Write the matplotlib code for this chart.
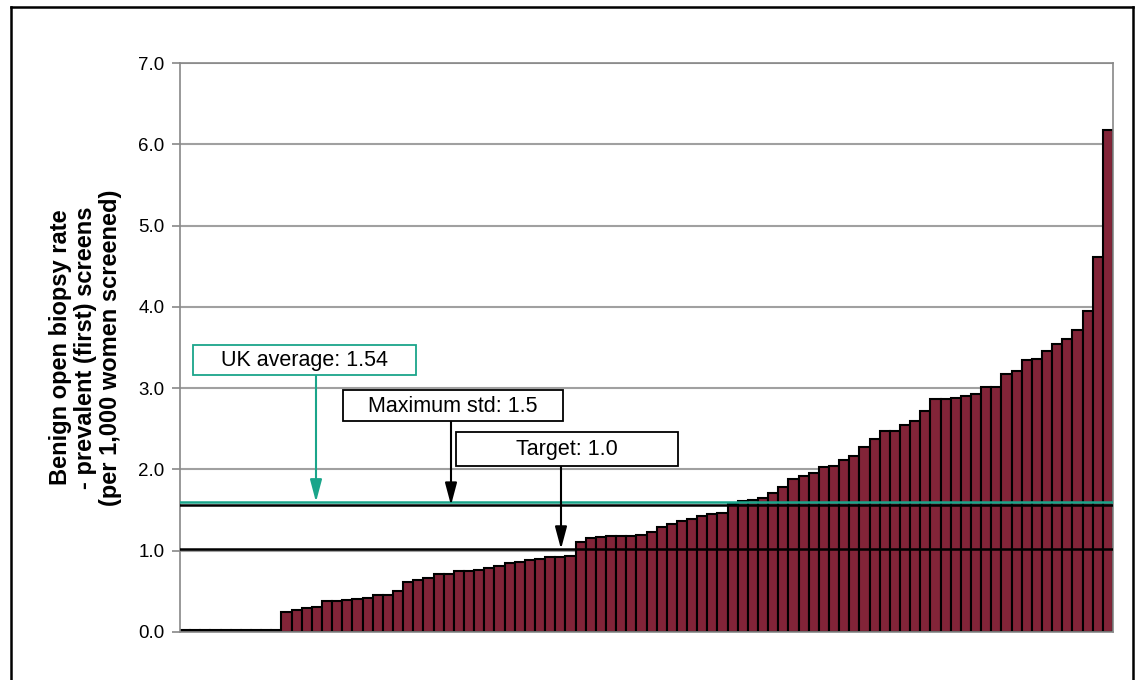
import matplotlib
matplotlib.use('Agg')
import matplotlib.pyplot as plt
from matplotlib.patches import Rectangle
from matplotlib.lines import Line2D

# ---- data ----
values = [0.02, 0.02, 0.02, 0.02, 0.02, 0.02, 0.02, 0.02, 0.02, 0.02,
          0.25, 0.27, 0.29, 0.31, 0.38, 0.38, 0.39, 0.40, 0.42, 0.455,
          0.46, 0.51, 0.61, 0.64, 0.66, 0.71, 0.71, 0.745, 0.755, 0.76,
          0.79, 0.815, 0.845, 0.86, 0.88, 0.90, 0.92, 0.925, 0.935, 1.11,
          1.16, 1.165, 1.175, 1.18, 1.185, 1.19, 1.225, 1.295, 1.33, 1.365,
          1.385, 1.425, 1.455, 1.47, 1.57, 1.615, 1.63, 1.65, 1.715, 1.785,
          1.88, 1.92, 1.95, 2.025, 2.04, 2.115, 2.17, 2.27, 2.38, 2.47,
          2.47, 2.55, 2.59, 2.72, 2.865, 2.87, 2.875, 2.905, 2.93, 3.02,
          3.02, 3.18, 3.21, 3.35, 3.36, 3.46, 3.54, 3.61, 3.71, 3.95,
          4.61, 6.18]
ytick_values = [0, 1, 2, 3, 4, 5, 6, 7]
ytick_labels = ['0.0', '1.0', '2.0', '3.0', '4.0', '5.0', '6.0', '7.0']
ylabel = 'Benign open biopsy rate\n- prevalent (first) screens\n(per 1,000 women screened)'

uk_avg_label = 'UK average: 1.54'
max_std_label = 'Maximum std: 1.5'
target_label = 'Target: 1.0'
uk_avg_line = 1.60
max_std_line = 1.56
target_line = 1.02

BAR = '#822438'
TEAL = '#1aa58a'
GRID = '#a0a0a0'

plt.rcParams['font.family'] = ['Liberation Sans', 'DejaVu Sans']

W, H = 1137, 680
fig = plt.figure(figsize=(W / 100, H / 100), dpi=100)

def fx(px):
    return px / W

def fy(py):
    return 1 - py / H

ax = fig.add_axes([fx(180), fy(632), (1113 - 180) / W, (632 - 63) / H])
xs = list(range(len(values)))
ax.bar(xs, values, width=1.0, color=BAR, edgecolor='black', linewidth=1.5, zorder=2)
ax.set_xlim(-0.5, len(values) - 0.5)
ax.set_ylim(0, 7)
ax.set_yticks(ytick_values)
ax.set_yticklabels(ytick_labels, fontsize=13.5)
ax.set_xticks([])
ax.yaxis.grid(True, color=GRID, linewidth=1.5, zorder=0)
ax.set_axisbelow(True)
for s in ax.spines.values():
    s.set_color('#888888')
    s.set_linewidth(1.2)
ax.tick_params(axis='y', length=6, width=1.2, color='#888888', pad=5)
ax.set_ylabel(ylabel, fontsize=17, fontweight='bold', linespacing=1.1, labelpad=12)

ax.axhline(target_line, color='black', lw=1.8, zorder=3)
ax.axhline(max_std_line, color='black', lw=1.8, zorder=3)
ax.axhline(uk_avg_line, color=TEAL, lw=1.8, zorder=4)

# annotation boxes (pixel layout)
boxes = [
    (uk_avg_label, 193, 345, 416, 375, TEAL, 316, uk_avg_line),
    (max_std_label, 343, 390, 563, 421, 'black', 451, max_std_line),
    (target_label, 456, 432, 678, 466, 'black', 561, target_line),
]
for label, x0, y0, x1, y1, col, ax_px, yval in boxes:
    fig.patches.append(Rectangle((fx(x0), fy(y1)), fx(x1) - fx(x0), fy(y0) - fy(y1),
                                 transform=fig.transFigure, facecolor='white',
                                 edgecolor=col, linewidth=1.3, zorder=5))
    fig.text(fx((x0 + x1) / 2), fy((y0 + y1) / 2) - 0.001, label, ha='center', va='center',
             fontsize=15.5, color='black', zorder=6)
    xa = (ax_px - 180) / (1113 - 180)
    ax.annotate('', xy=(xa, yval), xycoords=('axes fraction', 'data'),
                xytext=(fx(ax_px), fy(y1)), textcoords='figure fraction',
                arrowprops=dict(arrowstyle='-|>,head_length=0.75,head_width=0.2', color=col, lw=1.5,
                                mutation_scale=18, shrinkA=0, shrinkB=0),
                zorder=6, annotation_clip=False)

# outer frame
fig.add_artist(Line2D([fx(10.5), fx(10.5)], [fy(7), fy(700)], color='black', lw=1.8,
                      transform=fig.transFigure))
fig.add_artist(Line2D([fx(10.5), fx(1133)], [fy(7), fy(7)], color='black', lw=1.8,
                      transform=fig.transFigure))
fig.add_artist(Line2D([fx(1133), fx(1133)], [fy(7), fy(700)], color='black', lw=1.8,
                      transform=fig.transFigure))

fig.savefig('out.png', dpi=100)
